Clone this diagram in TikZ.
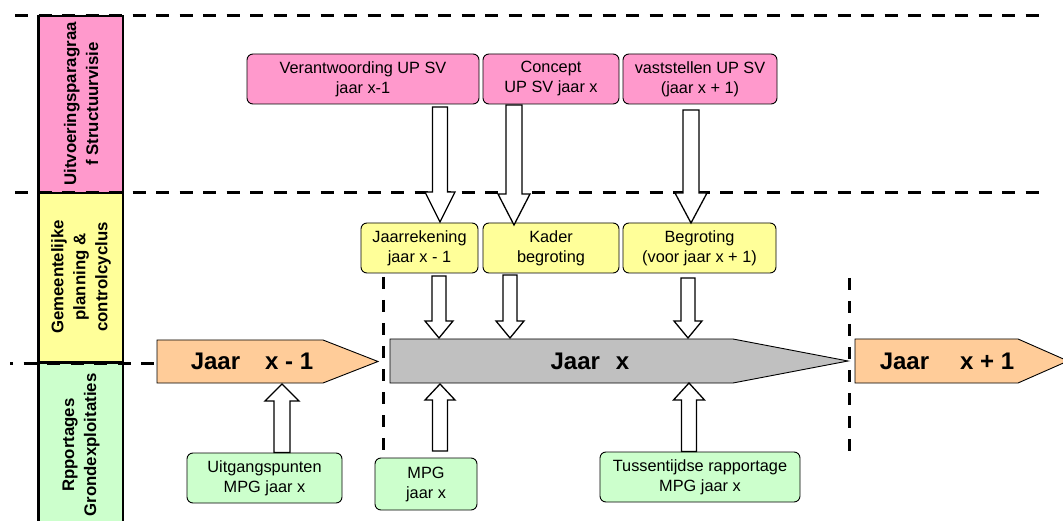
\documentclass[tikz,border=0pt]{standalone}
\usepackage{fontspec}
\setmainfont{Liberation Sans}
\usetikzlibrary{calc}
\definecolor{pinkc}{HTML}{FF99CC}
\definecolor{yellowc}{HTML}{FFFF99}
\definecolor{greenc}{HTML}{CCFFCC}
\definecolor{orangec}{HTML}{FFCC99}
\definecolor{greyc}{HTML}{C0C0C0}
\newcommand{\downblock}[5]{\draw[blockarrow] let \p1=(#1), \p2=(#2) in
  (\x1-#3,\y1) -- (\x1-#3,\y2+#5) -- (\x1-#4,\y2+#5) -- (\x1,\y2) --
  (\x1+#4,\y2+#5) -- (\x1+#3,\y2+#5) -- (\x1+#3,\y1) -- cycle;}
\newcommand{\upblock}[5]{\draw[blockarrow] let \p1=(#1), \p2=(#2) in
  (\x1-#3,\y1) -- (\x1-#3,\y2-#5) -- (\x1-#4,\y2-#5) -- (\x1,\y2) --
  (\x1+#4,\y2-#5) -- (\x1+#3,\y2-#5) -- (\x1+#3,\y1) -- cycle;}
\tikzset{
  lbox/.style={draw=black, line width=0.9pt, rounded corners=6pt, inner sep=0pt,
    minimum height=50pt, align=center, font=\fontsize{16.3}{20}\selectfont},
  pinkbox/.style={lbox, fill=pinkc},
  yellowbox/.style={lbox, fill=yellowc},
  greenbox/.style={lbox, fill=greenc},
  blockarrow/.style={draw=black, line width=1.3pt, fill=white, line join=miter},
  bar/.style={draw=black, line width=0.9pt, line join=miter},
  bartext/.style={font=\fontsize{24}{27}\selectfont\bfseries, inner sep=0pt},
  coltext/.style={rotate=90, align=center, inner sep=0pt,
    font=\fontsize{16.8}{22}\selectfont\bfseries},
  hdash/.style={line width=3pt, dash pattern=on 13pt off 10.5pt},
  vdash/.style={line width=3pt, dash pattern=on 12pt off 11pt},
}
\begin{document}
\begin{tikzpicture}[x=1pt,y=-1pt]
\useasboundingbox (0,0) rectangle (1063,521);
\clip (0,0) rectangle (1063,521);
% left column
\fill[pinkc] (38.5,16) rectangle (123,193);
\fill[yellowc] (38.5,193) rectangle (123,362.5);
\fill[greenc] (38.5,362.5) rectangle (123,530);
\draw[line width=2.5pt] (38.5,530) -- (38.5,16) -- (123,16) -- (123,530);
\draw[line width=2.5pt] (38.5,193) -- (123,193);
\draw[line width=2.5pt] (38.5,362.5) -- (123,362.5);
\node[coltext] (c1) at (81,104) {Uitvoeringsparagraa\\f Structuurvisie};
\node[coltext] (c2) at (81,277) {Gemeentelijke\\planning \&\\controlcyclus};
\node[coltext] (c3) at (81,445) {Rpportages\\Grondexploitaties};
% dashed separators
\draw[hdash] (15,16) -- (1046,16);
\draw[hdash] (15,193) -- (1046,193);
\draw[hdash, dash phase=10pt] (10,363) -- (155,363);
\draw[vdash] (383,277) -- (383,458);
\draw[vdash] (849,278) -- (849,456);
% pink boxes
\node[pinkbox, minimum width=232pt] (vera) at (363,79) {Verantwoording UP SV\\jaar x-1};
\node[pinkbox, minimum width=136pt] (conc) at (551,79) {Concept\\UP SV jaar x};
\node[pinkbox, minimum width=154pt] (vast) at (700,79) {vaststellen UP SV\\(jaar x + 1)};
% yellow boxes
\node[yellowbox, minimum width=117pt] (jaarr) at (419.5,248) {Jaarrekening\\jaar x - 1};
\node[yellowbox, minimum width=136pt] (kader) at (551,248) {Kader\\begroting};
\node[yellowbox, minimum width=153pt] (begr) at (699.5,248) {Begroting\\(voor jaar x + 1)};
% green boxes
\node[greenbox, minimum width=155pt] (uitg) at (264.5,478) {Uitgangspunten\\MPG jaar x};
\node[greenbox, minimum width=102pt, minimum height=52pt] (mpg) at (426,484) {MPG\\jaar x};
\node[greenbox, minimum width=200pt] (tuss) at (700,477) {Tussentijdse rapportage\\MPG jaar x};
% year bars
\draw[bar, fill=orangec] (157,340) -- (323,340) -- (378,361.5) -- (323,383) -- (157,383) -- cycle;
\draw[bar, fill=greyc] (390,339) -- (733,339) -- (848,361) -- (733,383) -- (390,383) -- cycle;
\draw[bar, fill=orangec] (855,339) -- (1018,339) -- (1068,361) -- (1018,383) -- (855,383) -- cycle;
\node[bartext] (jm1) at (252,361.5) {Jaar\hspace{25pt}x - 1};
\node[bartext] (j0) at (590,361) {Jaar\hspace{16pt}x};
\node[bartext] (jp1) at (947,361) {Jaar\hspace{31pt}x + 1};
% arrow end points
\coordinate (t1a) at (440,107); \coordinate (t1b) at (440,222);
\coordinate (t2a) at (514,105); \coordinate (t2b) at (514,225);
\coordinate (t3a) at (691,110); \coordinate (t3b) at (691,223);
\coordinate (l1a) at (439,276); \coordinate (l1b) at (439,338);
\coordinate (l2a) at (510,275); \coordinate (l2b) at (510,338);
\coordinate (l3a) at (688,278); \coordinate (l3b) at (688,338);
\coordinate (u1a) at (uitg.north -| 282,0); \coordinate (u1b) at (282,384);
\coordinate (u2a) at (440,451); \coordinate (u2b) at (440,384);
\coordinate (u3a) at (tuss.north -| 689,0); \coordinate (u3b) at (689,383);
% block arrows
\downblock{t1a}{t1b}{7.5pt}{15pt}{30pt}
\downblock{t2a}{t2b}{8pt}{16pt}{31pt}
\downblock{t3a}{t3b}{8pt}{16pt}{30pt}
\downblock{l1a}{l1b}{7pt}{14pt}{17pt}
\downblock{l2a}{l2b}{7pt}{14pt}{17pt}
\downblock{l3a}{l3b}{7pt}{14pt}{17pt}
\upblock{u1a}{u1b}{8pt}{17pt}{17pt}
\upblock{u2a}{u2b}{7.5pt}{15pt}{16pt}
\upblock{u3a}{u3b}{7.5pt}{15.5pt}{17pt}
\end{tikzpicture}
\end{document}
